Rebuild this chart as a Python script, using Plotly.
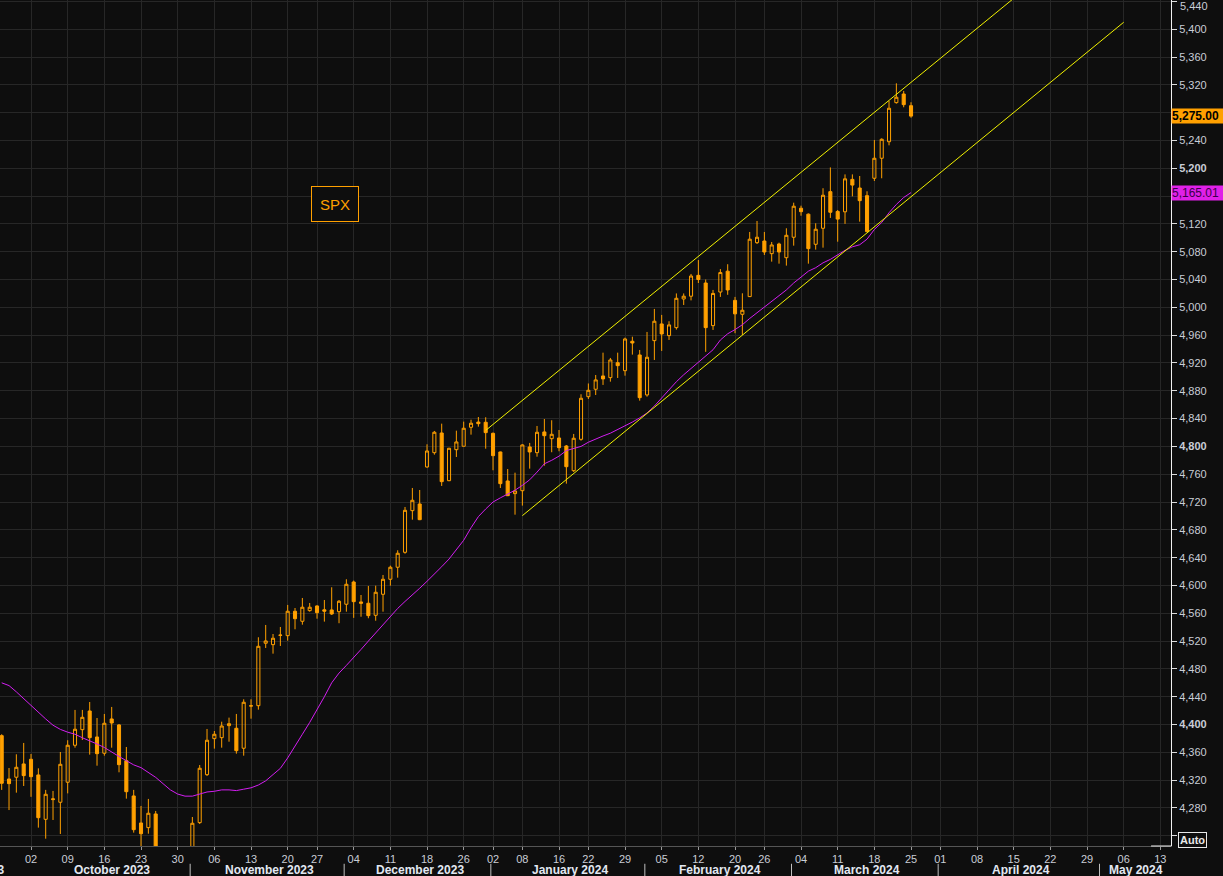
import pandas as pd
import plotly.graph_objects as go

# ---------------- data ----------------
holidays = ["2023-09-04", "2023-11-23", "2023-12-25", "2024-01-01", "2024-01-15",
            "2024-02-19", "2024-03-29", "2024-05-27"]
calendar_start, calendar_end = "2023-09-01", "2024-06-28"
first_bar, last_bar = "2023-09-26", "2024-03-25"

opens = [4384, 4321.7, 4324.2, 4343.3, 4350, 4327.5, 4263.7, 4292, 4288.2, 4317,
         4370.2, 4392.6, 4419.5, 4382.1, 4358.7, 4408, 4399.4, 4348, 4297.3, 4258.4,
         4251.7, 4271.4, 4205, 4180, 4150, 4195, 4215, 4258.9, 4327.9, 4379.7,
         4381.1, 4398.4, 4394.6, 4365.9, 4426.5, 4427.1, 4516.9, 4514.9, 4528.2, 4527.8,
         4562.9, 4548.5, 4563.8, 4570.5, 4565, 4564.8, 4562.3, 4573, 4605, 4576.3,
         4574.4, 4557.1, 4587.3, 4608.9, 4626.2, 4647.7, 4707.6, 4717.2, 4770.4, 4791,
         4819.3, 4750.7, 4795.3, 4800.2, 4827.5, 4835, 4834.7, 4818.8, 4792, 4750.3,
         4732.1, 4736.3, 4799.2, 4791, 4820.8, 4811.1, 4812.1, 4800.6, 4765.1, 4810.2,
         4871.5, 4882.2, 4901.3, 4898.9, 4920.4, 4908.9, 4951.2, 4931.5, 4874, 4952.1,
         4976.1, 4959.3, 4970.8, 5012, 5016, 5046, 5035, 4973.7, 5022, 5052,
         5010, 4990, 5015.4, 5093, 5095.4, 5077.2, 5091.1, 5071.4, 5100.8, 5142.5,
         5134, 5090.7, 5113.7, 5166.4, 5137.9, 5137.4, 5184, 5171.6, 5160.6, 5185.6,
         5214.4, 5238.2, 5294.4, 5306.8, 5290]
highs = [4386, 4337.5, 4357.2, 4373.5, 4357.7, 4337, 4306, 4304.5, 4360.5, 4377.4,
         4421, 4421, 4432.4, 4409.4, 4415.2, 4425.3, 4400.8, 4367.7, 4306, 4282.9,
         4293, 4275.7, 4212, 4190, 4205, 4220, 4267, 4341.8, 4393.6, 4390.7,
         4404.1, 4409.9, 4415.2, 4436.3, 4436.3, 4525.5, 4543.2, 4530.2, 4540.3, 4572,
         4567.6, 4582, 4574.8, 4571.5, 4579.1, 4597.4, 4579, 4608.9, 4607, 4586.3,
         4599.3, 4599.7, 4615.1, 4628.5, 4650.6, 4712.9, 4740.2, 4737.3, 4803, 4822.2,
         4832.7, 4798, 4822.6, 4835.6, 4838.4, 4842.3, 4841.9, 4820, 4792.5, 4767.5,
         4762.2, 4803, 4805, 4829.4, 4839.4, 4837.6, 4823.6, 4802, 4817.9, 4875,
         4890.5, 4902.7, 4934.8, 4927.2, 4934.8, 4956.4, 4957.8, 4938.7, 4964.6, 4997.7,
         4989.1, 4980, 5020, 5020, 5048, 5068, 5040, 5025, 5055, 5062,
         5015, 5020.2, 5108.4, 5124.2, 5108.4, 5094, 5093, 5113.7, 5150.5, 5146.2,
         5135, 5120.9, 5171.3, 5201.2, 5140, 5191.2, 5191.2, 5188.9, 5166.9, 5240.7,
         5243, 5296.8, 5322.2, 5311.2, 5294.9]
lows = [4306, 4277, 4302, 4311.6, 4296, 4251.7, 4235.8, 4262.7, 4242.6, 4301,
        4366.7, 4377.8, 4356.7, 4340.8, 4355.2, 4366.7, 4331.3, 4293.4, 4244.5, 4222,
        4243, 4200, 4160, 4135, 4145, 4180, 4205, 4257, 4326, 4365.3,
        4366.7, 4375.3, 4358.1, 4355.2, 4408.4, 4421.4, 4510.1, 4501.9, 4513, 4520.6,
        4537, 4543.6, 4562.3, 4552.2, 4548, 4557.6, 4545.7, 4562.3, 4553.4, 4555,
        4552.8, 4549.3, 4562.3, 4599.7, 4611.2, 4645.7, 4694.6, 4694, 4769.4, 4788.1,
        4743.1, 4750, 4784.8, 4800, 4816.9, 4828.4, 4796.7, 4765.7, 4740.2, 4729,
        4701.8, 4714.8, 4768, 4785.2, 4772.3, 4791.6, 4793, 4746.4, 4763.2, 4808.2,
        4868.2, 4873.9, 4888.4, 4893.1, 4898.4, 4901.7, 4932, 4865.8, 4871.5, 4924.3,
        4937.3, 4953.1, 4968, 5003.4, 5010, 5035, 4936, 4967.5, 5015, 5018,
        4962.8, 4960.3, 5015, 5091.1, 5075.3, 5065.7, 5062.8, 5060, 5088.7, 5131.8,
        5062.8, 5083, 5085.8, 5128.6, 5094.4, 5120, 5159.6, 5123.2, 5108, 5181.7,
        5185.6, 5233, 5293, 5287.7, 5272.7]
closes = [4315.5, 4315, 4338.5, 4326.5, 4325, 4266, 4299.7, 4293, 4342.8, 4370.2,
          4393.2, 4410.4, 4381.1, 4358.1, 4401.8, 4402.2, 4342.3, 4303.4, 4248.8, 4243,
          4272.4, 4210, 4165, 4145, 4195, 4215, 4258, 4337.1, 4377.4, 4386,
          4397.9, 4401.2, 4362.4, 4432, 4427, 4512.5, 4520.2, 4524.1, 4528.6, 4562.9,
          4552.2, 4568.7, 4568.7, 4560.9, 4563, 4559, 4577.3, 4601.7, 4576.7, 4574.4,
          4556.6, 4590.2, 4608.9, 4626.2, 4646.3, 4708.1, 4722.5, 4694.6, 4793.4, 4820.3,
          4749.3, 4797.3, 4806.4, 4826.1, 4833.3, 4832.7, 4819.8, 4786.7, 4746.4, 4729.1,
          4735.9, 4802.1, 4792, 4820.3, 4815.4, 4817.4, 4798.2, 4770.8, 4811.7, 4869.2,
          4880.7, 4895.6, 4897, 4924.3, 4916.1, 4954.5, 4948.7, 4870.1, 4928.2, 4980,
          4961.7, 4974.7, 5013, 5016, 5045, 5040, 4970.8, 5020, 5050, 5025,
          4990.6, 4995.8, 5098, 5100.8, 5079.6, 5089.7, 5079.6, 5103.6, 5145.4, 5137.6,
          5084.4, 5112.3, 5161.2, 5136.7, 5126.9, 5184.8, 5175.8, 5153.4, 5108.9, 5214.4,
          5241.7, 5286.3, 5302.1, 5291.5, 5275]
moving_avg = [4460, 4456, 4447, 4437, 4428, 4418, 4408, 4399, 4393, 4389,
              4386, 4381, 4377, 4372, 4367, 4360, 4354, 4348, 4342, 4338,
              4331, 4324, 4315, 4306, 4300, 4297, 4297, 4300, 4303, 4304,
              4306, 4306, 4305, 4307, 4309, 4313, 4319, 4328, 4337, 4352,
              4370, 4386, 4403, 4421, 4440, 4460, 4474, 4485, 4496, 4508,
              4520, 4532, 4544, 4555, 4567, 4577, 4586, 4596, 4606, 4616,
              4627, 4638, 4652, 4665, 4683, 4699, 4710, 4720, 4726, 4731,
              4737, 4744, 4752, 4763, 4775, 4780, 4786, 4794, 4797, 4800,
              4806, 4811, 4815, 4819, 4824, 4829, 4835, 4841, 4848, 4858,
              4870, 4882, 4893, 4903, 4912, 4921, 4930, 4939, 4953, 4962,
              4968, 4975, 4984, 4992, 5000, 5008, 5016, 5025, 5035, 5044,
              5052, 5057, 5064, 5069, 5076, 5082, 5087, 5090, 5098, 5112,
              5122, 5136, 5148, 5158, 5165.01]
channel_upper_dates = ["2023-12-29", "2024-05-13"]
channel_upper_vals = [4823, 5617]
channel_lower_dates = ["2024-01-08", "2024-05-06"]
channel_lower_vals = [4700.4, 5410]
y_ticks = list(range(4240, 5441, 40))
hidden_y_labels = [4240, 5160, 5280, 5440]   # covered by the price boxes / top edge
last_price, last_ma = 5275.00, 5165.01
month_names = ["September 2023", "October 2023", "November 2023", "December 2023",
               "January 2024", "February 2024", "March 2024", "April 2024", "May 2024"]

# ---------------- trading-day calendar ----------------
days = [d for d in pd.bdate_range(calendar_start, calendar_end)
        if d.strftime("%Y-%m-%d") not in holidays]
pos = {d.strftime("%Y-%m-%d"): i for i, d in enumerate(days)}
bar_dates = [d.strftime("%Y-%m-%d") for d in days if first_bar <= d.strftime("%Y-%m-%d") <= last_bar]
xb = [pos[d] for d in bar_dates]
assert len(xb) == len(opens) == len(highs) == len(lows) == len(closes) == len(moving_avg)

ref = pos["2023-10-02"]
x_min, x_max = ref - 4.23, ref + 155.45
y_min, y_max = 4225.3, 5442.0

ORANGE = "#ffa000"
BG = "#0e0e0e"
GRID = "#272727"
TXT = "#c9cdd6"
FONT = "Liberation Sans, Arial, sans-serif"

fig = go.Figure()
fig.add_trace(go.Candlestick(
    x=xb, open=opens, high=highs, low=lows, close=closes,
    increasing=dict(line=dict(color=ORANGE, width=1), fillcolor="rgba(0,0,0,0)"),
    decreasing=dict(line=dict(color=ORANGE, width=1), fillcolor=ORANGE),
    whiskerwidth=0, showlegend=False, hoverinfo="skip"))
fig.add_trace(go.Scatter(x=xb, y=moving_avg, mode="lines",
                         line=dict(color="#d21ef0", width=1), showlegend=False, hoverinfo="skip"))
fig.add_trace(go.Scatter(x=[pos[d] for d in channel_upper_dates], y=channel_upper_vals, mode="lines",
                         line=dict(color="#f2f200", width=1), showlegend=False, hoverinfo="skip"))
fig.add_trace(go.Scatter(x=[pos[d] for d in channel_lower_dates], y=channel_lower_vals, mode="lines",
                         line=dict(color="#f2f200", width=1), showlegend=False, hoverinfo="skip"))

# weekly ticks: first trading day of each week
week_ticks, week_text, seen = [], [], set()
for d in days:
    k = d.isocalendar()[:2]
    if k in seen:
        continue
    seen.add(k)
    i = pos[d.strftime("%Y-%m-%d")]
    if x_min <= i <= x_max:
        week_ticks.append(i)
        week_text.append(d.strftime("%d"))

def to_paper(i):
    return (i - x_min) / (x_max - x_min)

annotations = []
shapes = []
month_starts = []
seen_m = []
for d in days:
    k = (d.year, d.month)
    if k not in seen_m:
        seen_m.append(k)
        month_starts.append(pos[d.strftime("%Y-%m-%d")])
for n, name in enumerate(month_names):
    s = month_starts[n]
    e = min(month_starts[n + 1], x_max)
    c = (s + e) / 2
    annotations.append(dict(xref="paper", yref="paper", x=to_paper(c), y=-0.0285,
                            text="<b>%s</b>" % name, showarrow=False, xanchor="center",
                            yanchor="middle", font=dict(family=FONT, size=12, color="#e2e8f2")))
    if n >= 2 and x_min < s < x_max:
        shapes.append(dict(type="line", xref="x", yref="paper", x0=s - 0.3, x1=s - 0.3,
                           y0=-0.021, y1=-0.036, line=dict(color="#bfbfbf", width=1)))

# top y label, shifted down inside the figure as in the original
annotations.append(dict(xref="paper", yref="paper", x=1.0, xshift=7, y=1 - 6 / 846, xanchor="left",
                        yanchor="middle", text="{:,}".format(y_ticks[-1]), showarrow=False,
                        font=dict(family=FONT, size=11, color=TXT)))

# SPX label
annotations.append(dict(xref="paper", yref="paper", x=0.2861, y=0.7589, text="SPX", showarrow=False,
                        xanchor="center", yanchor="middle",
                        font=dict(family=FONT, size=15, color=ORANGE), bordercolor=ORANGE,
                        borderwidth=1, width=44, height=32, borderpad=1, bgcolor=BG))
# last price / MA labels
annotations.append(dict(xref="paper", yref="y", x=1.0, y=last_price, xanchor="left", yanchor="middle",
                        text="<b>{:,.2f}</b>".format(last_price), showarrow=False, align="left",
                        font=dict(family=FONT, size=12, color="#000000"), bgcolor=ORANGE,
                        width=51, borderpad=0))
annotations.append(dict(xref="paper", yref="y", x=1.0, y=last_ma, xanchor="left", yanchor="middle",
                        text="{:,.2f}".format(last_ma), showarrow=False, align="left",
                        font=dict(family=FONT, size=12, color="#3a0048"), bgcolor="#e020e8",
                        width=51, borderpad=0))
# Auto box
annotations.append(dict(xref="paper", yref="paper", x=1.0185, y=0.007, text="<b>Auto</b>",
                        showarrow=False, xanchor="center", yanchor="middle",
                        font=dict(family=FONT, size=11, color="#e8e8e8"), bordercolor="#e8e8e8",
                        borderwidth=1, borderpad=1, bgcolor=BG))
shapes.append(dict(type="line", xref="paper", yref="paper", x0=0.983, x1=1.0, y0=0, y1=0,
                   line=dict(color="#f0f0f0", width=1)))

y_text = []
for v in y_ticks:
    if v in hidden_y_labels:
        y_text.append("")
    elif v % 400 == 0:
        y_text.append("<b>{:,}</b>".format(v))
    else:
        y_text.append("{:,}".format(v))

fig.update_layout(
    width=1223, height=876, margin=dict(l=0, r=52, t=0, b=30),
    paper_bgcolor=BG, plot_bgcolor=BG, showlegend=False, boxgap=0.4,
    annotations=annotations, shapes=shapes,
    xaxis=dict(range=[x_min, x_max], tickmode="array", tickvals=week_ticks, ticktext=week_text,
               showgrid=True, gridcolor=GRID, gridwidth=1, zeroline=False,
               ticks="outside", ticklen=3, tickcolor="#9a9a9a",
               tickfont=dict(family=FONT, size=11, color=TXT),
               showline=True, linecolor="#555555", linewidth=1,
               rangeslider=dict(visible=False), fixedrange=True),
    yaxis=dict(range=[y_min, y_max], side="right", tickmode="array", tickvals=y_ticks, ticktext=y_text,
               showgrid=True, gridcolor=GRID, gridwidth=1, zeroline=False,
               ticks="outside", ticklen=5, tickcolor="#dcdcdc",
               tickfont=dict(family=FONT, size=11, color=TXT),
               showline=True, linecolor="#f0f0f0", linewidth=1, fixedrange=True),
)

fig.write_html("out.html", config={"displayModeBar": False},
               post_script="document.body.style.margin='0';document.body.style.background='%s';" % BG)
